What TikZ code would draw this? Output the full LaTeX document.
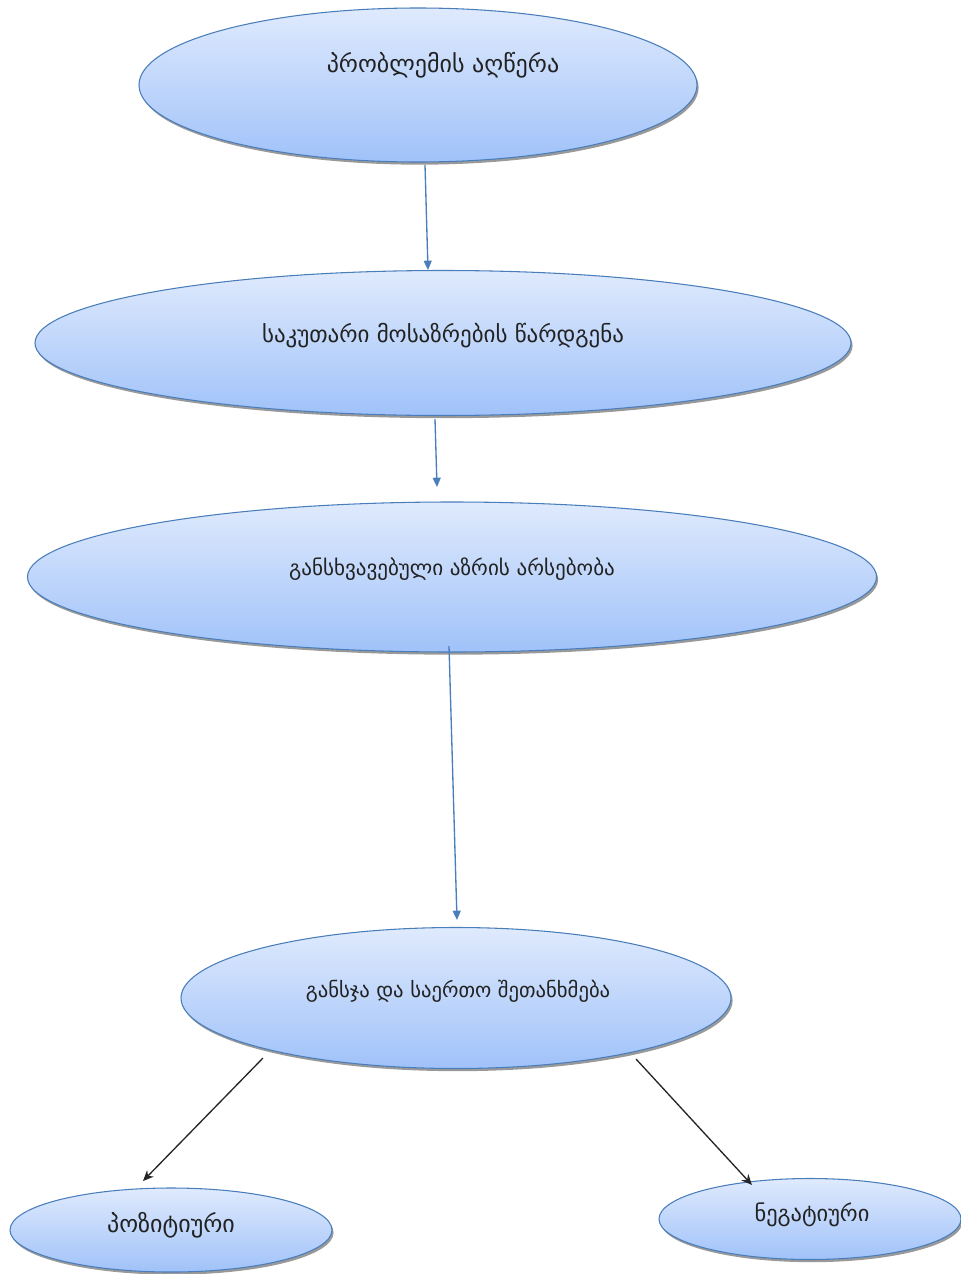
\documentclass[tikz,border=0pt]{standalone}
\usepackage{fontspec}
\setmainfont{DejaVu Sans}
\usetikzlibrary{shapes.geometric,shadows,arrows.meta}
\definecolor{ebord}{HTML}{4A7EBB}
\definecolor{etop}{HTML}{DFEAFD}
\definecolor{ebot}{HTML}{A0C2F9}
\definecolor{txt}{HTML}{222222}
\tikzset{
  oval/.style={ellipse, inner sep=0pt, draw=ebord, line width=0.8pt,
    top color=etop, bottom color=ebot,
    drop shadow={shadow xshift=1.2pt, shadow yshift=-2pt, fill=black!40, opacity=1}},
  lbl/.style={text=txt, inner sep=0pt},
  bluearrow/.style={draw=ebord, line width=1pt, -{Triangle[length=7pt,width=6pt]}},
  blackarrow/.style={draw=black!85, line width=1pt, -{Stealth[length=8pt,width=7pt]}}
}
\begin{document}
\begin{tikzpicture}[x=0.75pt,y=-0.75pt]
\useasboundingbox (0,0) rectangle (960,1274);
% ellipses
\node[oval, minimum width=418.5pt, minimum height=115.5pt] (e1) at (418,85) {};
\node[oval, minimum width=612pt, minimum height=108.75pt] (e2) at (443,343) {};
\node[oval, minimum width=636.75pt, minimum height=112.5pt] (e3) at (452,577) {};
\node[oval, minimum width=412.5pt, minimum height=105.75pt] (e4) at (456,998) {};
\node[oval, minimum width=241.5pt, minimum height=63pt] (e5) at (171,1230) {};
\node[oval, minimum width=226.5pt, minimum height=60.75pt] (e6) at (810,1219) {};
% labels
\node[lbl, font=\fontsize{18}{21}\selectfont] (t1) at (443,65) {პრობლემის აღწერა};
\node[lbl, font=\fontsize{17.2}{20}\selectfont] (t2) at (443,336) {საკუთარი მოსაზრების წარდგენა};
\node[lbl, font=\fontsize{15.8}{18}\selectfont] (t3) at (452,569) {განსხვავებული აზრის არსებობა};
\node[lbl, font=\fontsize{15.5}{18}\selectfont] (t4) at (458,991) {განსჯა და საერთო შეთანხმება};
\node[lbl, font=\fontsize{18}{21}\selectfont] (t5) at (171,1225) {პოზიტიური};
\node[lbl, font=\fontsize{16.8}{20}\selectfont] (t6) at (812,1215) {ნეგატიური};
% connector end points
\coordinate (a1s) at (425,165); \coordinate (a1e) at (428,270);
\coordinate (a2s) at (435,419); \coordinate (a2e) at (437,487);
\coordinate (a3s) at (449,646); \coordinate (a3e) at (457,920);
\coordinate (a4s) at (263,1058); \coordinate (a4e) at (143,1181);
\coordinate (a5s) at (636,1059); \coordinate (a5e) at (752,1185);
\draw[bluearrow] (a1s) -- (a1e);
\draw[bluearrow] (a2s) -- (a2e);
\draw[bluearrow] (a3s) -- (a3e);
\draw[blackarrow] (a4s) -- (a4e);
\draw[blackarrow] (a5s) -- (a5e);
\end{tikzpicture}
\end{document}
